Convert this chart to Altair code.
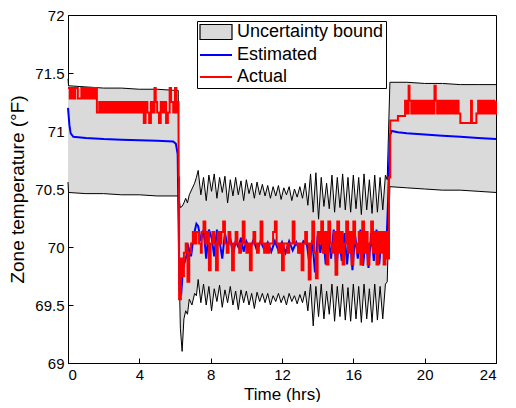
import altair as alt
import pandas as pd

# ---------------- data ----------------
band_t = [0.0, 0.03, 1.0, 2.0, 3.0, 4.0, 5.0, 6.0, 6.18,
          6.22, 6.3, 6.4, 6.5, 6.6, 6.7, 6.8, 6.95, 7.1, 7.2,
          7.3, 7.45, 7.6, 7.75, 7.9, 8.05, 8.2, 8.35, 8.5, 8.65, 8.8, 8.95, 9.1, 9.25,
          9.4, 9.55, 9.7, 9.85, 10.0, 10.15, 10.3, 10.45, 10.6, 10.75, 10.9, 11.05,
          11.2, 11.35, 11.5, 11.65, 11.8, 11.95, 12.1, 12.25, 12.4, 12.55, 12.7, 12.85,
          13.0, 13.15, 13.3, 13.45,
          13.6, 13.75, 13.9, 14.05, 14.2, 14.35, 14.5, 14.65, 14.8, 14.95, 15.1, 15.25,
          15.4, 15.55, 15.7, 15.85, 16.0, 16.15, 16.3, 16.45, 16.6, 16.75, 16.9, 17.05,
          17.2, 17.35, 17.5, 17.65, 17.8, 17.9,
          18.05, 19.0, 20.0, 21.0, 22.0, 23.0, 24.0]

band_upper = [71.45, 71.39, 71.38, 71.37, 71.37, 71.36, 71.36, 71.35, 71.35,
              70.42, 70.34, 70.35, 70.38, 70.42, 70.38, 70.45, 70.5, 70.55, 70.6,
              70.66, 70.45, 70.6, 70.4, 70.62, 70.48, 70.63, 70.42, 70.6, 70.47, 70.61, 70.38,
              70.58, 70.44, 70.6, 70.45, 70.57, 70.4, 70.58, 70.46, 70.55, 70.42, 70.56, 70.45,
              70.54, 70.44, 70.53, 70.42, 70.52, 70.44, 70.53, 70.41, 70.51, 70.45, 70.52, 70.4,
              70.5, 70.43, 70.52, 70.42, 70.55, 70.36,
              70.63, 70.3, 70.64, 70.24, 70.6, 70.35, 70.55, 70.33, 70.62, 70.3, 70.6, 70.34,
              70.63, 70.32, 70.6, 70.3, 70.62, 70.33, 70.6, 70.28, 70.63, 70.32, 70.58, 70.29,
              70.62, 70.3, 70.6, 70.32, 70.62, 70.58,
              71.42, 71.42, 71.41, 71.41, 71.40, 71.40, 71.40]

band_lower = [70.56, 70.47, 70.46, 70.46, 70.45, 70.45, 70.44, 70.44, 70.44,
              69.9, 69.3, 69.1, 69.38, 69.45, 69.42, 69.55, 69.5, 69.6, 69.58,
              69.72, 69.52, 69.68, 69.5, 69.66, 69.45, 69.64, 69.53, 69.67, 69.48, 69.63, 69.52,
              69.66, 69.5, 69.62, 69.46, 69.63, 69.52, 69.62, 69.5, 69.6, 69.47, 69.61, 69.53,
              69.6, 69.52, 69.6, 69.5, 69.58, 69.53, 69.6, 69.52, 69.58, 69.5, 69.6, 69.53,
              69.58, 69.51, 69.59, 69.52, 69.62, 69.45,
              69.68, 69.32, 69.66, 69.4, 69.68, 69.38, 69.62, 69.42, 69.68, 69.36, 69.66, 69.4,
              69.68, 69.37, 69.65, 69.36, 69.68, 69.38, 69.66, 69.35, 69.68, 69.38, 69.64, 69.35,
              69.68, 69.37, 69.66, 69.38, 69.68, 69.7,
              70.52, 70.51, 70.50, 70.49, 70.49, 70.48, 70.47]

estimated = [
    (0.0, 71.2), (0.08, 71.05), (0.15, 70.98), (0.3, 70.95), (1.0, 70.94), (2.0, 70.93),
    (3.0, 70.925), (4.0, 70.92), (5.0, 70.915), (5.9, 70.91), (6.05, 70.89), (6.15, 70.8),
    (6.2, 70.2), (6.25, 69.62), (6.35, 69.6), (6.45, 69.82), (6.6, 69.9), (6.75, 70.0),
    (6.9, 69.92), (7.05, 70.1), (7.2, 70.2), (7.3, 70.18), (7.45, 70.05), (7.6, 70.15),
    (7.75, 69.9), (7.9, 70.15), (8.05, 70.08), (8.2, 69.92), (8.35, 70.15), (8.5, 70.05),
    (8.65, 69.9), (8.8, 70.12), (8.95, 70.0), (9.1, 70.08), (9.25, 69.93), (9.4, 70.05),
    (9.55, 70.0), (9.7, 70.08), (9.85, 69.96), (10.0, 70.05), (10.2, 69.98), (10.4, 70.06),
    (10.6, 69.97), (10.8, 70.05), (11.0, 69.98), (11.2, 70.04), (11.4, 69.96), (11.6, 70.05),
    (11.8, 69.97), (12.0, 70.04), (12.2, 69.95), (12.4, 70.05), (12.6, 69.97), (12.8, 70.04),
    (13.0, 69.96), (13.2, 70.05), (13.4, 70.02), (13.55, 69.84), (13.7, 70.06), (13.85, 69.78),
    (14.0, 70.1), (14.15, 69.95), (14.3, 70.12), (14.45, 69.85), (14.6, 70.1), (14.75, 69.9),
    (14.9, 70.15), (15.05, 69.8), (15.2, 70.1), (15.35, 69.88), (15.5, 70.12), (15.65, 69.85),
    (15.8, 70.12), (15.95, 69.8), (16.1, 70.1), (16.25, 69.9), (16.4, 70.15), (16.55, 69.84),
    (16.7, 70.1), (16.85, 69.82), (17.0, 70.12), (17.15, 69.88), (17.3, 70.15), (17.45, 69.85),
    (17.6, 70.1), (17.75, 69.9), (17.85, 70.0), (17.95, 70.4), (18.05, 70.96), (18.15, 71.0),
    (18.5, 70.99), (19.0, 70.98), (20.0, 70.97), (21.0, 70.96), (22.0, 70.95), (23.0, 70.94),
    (24.0, 70.93)]

actual = [
    (0.0, 71.37), (0.1, 71.28), (0.2, 71.37), (0.3, 71.28), (0.4, 71.37), (0.55, 71.28),
    (0.75, 71.37), (0.85, 71.28), (0.95, 71.37), (1.05, 71.28), (1.15, 71.37), (1.25, 71.28),
    (1.35, 71.37), (1.45, 71.28), (1.55, 71.37),
    (1.62, 71.16), (1.75, 71.25), (1.85, 71.16), (1.95, 71.25), (2.05, 71.16), (2.15, 71.25),
    (2.25, 71.16), (2.35, 71.25), (2.45, 71.16), (2.55, 71.25), (2.65, 71.16), (2.75, 71.25),
    (2.85, 71.16), (2.95, 71.25), (3.05, 71.16), (3.15, 71.25), (3.25, 71.16), (3.35, 71.25),
    (3.45, 71.16), (3.55, 71.25), (3.65, 71.16), (3.75, 71.25), (3.85, 71.16), (3.95, 71.25),
    (4.05, 71.16), (4.15, 71.25), (4.25, 71.07), (4.35, 71.25), (4.45, 71.16), (4.55, 71.07),
    (4.65, 71.25), (4.75, 71.16), (4.85, 71.37), (4.92, 71.25), (5.0, 71.16), (5.1, 71.07),
    (5.2, 71.25), (5.3, 71.16), (5.4, 71.25), (5.5, 71.07), (5.6, 71.16), (5.7, 71.37),
    (5.78, 71.25), (5.9, 71.16), (6.0, 71.37), (6.08, 71.16), (6.14, 71.25),
    (6.2, 70.6), (6.23, 69.55), (6.33, 69.9), (6.4, 69.75), (6.5, 69.95), (6.6, 70.03),
    (6.7, 69.7), (6.8, 69.95), (6.9, 70.03), (7.0, 70.13), (7.1, 70.03), (7.2, 70.13),
    (7.35, 70.03), (7.45, 69.95), (7.5, 70.13), (7.6, 70.22), (7.7, 70.03), (7.8, 70.13),
    (7.9, 69.8), (8.0, 70.03), (8.1, 70.13), (8.2, 70.03), (8.3, 69.8), (8.4, 70.13),
    (8.5, 70.03), (8.6, 70.13), (8.7, 70.22), (8.8, 70.03), (8.9, 69.95), (9.0, 70.13),
    (9.1, 70.03), (9.2, 69.8), (9.3, 70.03), (9.4, 70.13), (9.5, 70.03), (9.6, 69.95),
    (9.7, 70.03), (9.8, 70.22), (9.9, 70.03), (10.0, 69.95), (10.1, 70.03), (10.2, 69.8),
    (10.3, 70.03), (10.4, 70.13), (10.5, 70.03), (10.6, 69.95), (10.7, 70.03), (10.8, 70.22),
    (10.9, 70.03), (11.0, 69.95), (11.1, 70.03), (11.2, 69.95), (11.3, 70.03), (11.5, 70.13),
    (11.6, 70.22), (11.7, 70.03), (11.8, 69.95), (11.9, 70.03), (12.0, 69.8), (12.1, 70.03),
    (12.3, 69.95), (12.4, 70.03), (12.6, 70.22), (12.7, 70.03), (12.9, 69.95), (13.0, 70.03),
    (13.1, 69.8), (13.2, 70.03), (13.3, 70.13), (13.4, 70.03), (13.5, 69.72), (13.6, 70.03),
    (13.7, 70.22), (13.8, 69.95), (13.9, 69.73), (14.0, 70.13), (14.1, 70.03), (14.2, 70.22),
    (14.3, 69.95), (14.4, 70.13), (14.5, 69.85), (14.6, 70.22), (14.7, 70.03), (14.8, 69.95),
    (14.9, 70.13), (15.0, 69.76), (15.1, 70.22), (15.2, 69.95), (15.3, 70.13), (15.4, 69.85),
    (15.5, 70.03), (15.6, 70.22), (15.7, 69.95), (15.8, 70.13), (15.9, 69.85), (16.0, 70.22),
    (16.1, 70.03), (16.2, 69.95), (16.3, 70.13), (16.4, 69.85), (16.5, 70.22), (16.6, 69.95),
    (16.7, 70.13), (16.8, 69.85), (16.9, 70.03), (17.0, 70.22), (17.1, 69.95), (17.2, 70.13),
    (17.3, 69.85), (17.4, 70.13), (17.5, 69.95), (17.6, 70.13), (17.7, 69.85), (17.8, 70.13),
    (17.9, 69.9), (18.0, 70.6), (18.07, 71.09),
    (18.5, 71.13), (18.9, 71.26), (19.0, 71.15), (19.1, 71.39), (19.15, 71.26), (19.25, 71.15),
    (19.35, 71.26), (19.45, 71.15), (19.55, 71.26), (19.65, 71.15), (19.75, 71.26), (19.85, 71.15),
    (19.95, 71.26), (20.05, 71.15), (20.15, 71.26), (20.25, 71.15), (20.35, 71.26), (20.45, 71.15),
    (20.55, 71.39), (20.62, 71.26), (20.7, 71.15), (20.8, 71.26), (20.9, 71.15), (21.0, 71.26),
    (21.1, 71.15), (21.2, 71.26), (21.3, 71.15), (21.4, 71.26), (21.5, 71.15), (21.6, 71.26),
    (21.7, 71.15), (21.8, 71.26), (21.9, 71.15), (22.0, 71.07), (22.6, 71.26), (22.65, 71.07),
    (22.9, 71.15), (23.0, 71.26), (23.1, 71.15), (23.2, 71.26), (23.3, 71.15), (23.4, 71.26),
    (23.5, 71.15), (23.6, 71.26), (23.7, 71.15), (23.8, 71.26), (23.9, 71.15), (24.0, 71.26)]

x_ticks = [0, 4, 8, 12, 16, 20, 24]
y_ticks = [69, 69.5, 70, 70.5, 71, 71.5, 72]
series_names = ["Uncertainty bound", "Estimated", "Actual"]
series_strokes = ["#000000", "#0000ff", "#ff0000"]
band_fill = "#dadada"

# ---------------- tables ----------------
band_df = pd.DataFrame({"t": band_t, "upper": band_upper, "lower": band_lower})
band_df["series"] = series_names[0]
est_df = pd.DataFrame(estimated, columns=["t", "v"])
est_df["series"] = series_names[1]
act_df = pd.DataFrame(actual, columns=["t", "v"])
act_df["series"] = series_names[2]

FONT = "Liberation Sans"
xs = alt.Scale(domain=[0, 24], nice=False, zero=False)
ys = alt.Scale(domain=[69, 72], nice=False, zero=False)
cs = alt.Scale(domain=series_names, range=series_strokes)

x_axis = alt.Axis(values=x_ticks, title="Time (hrs)", grid=False,
                  tickSize={"expr": "-5"}, labelPadding=9, format="~g", titlePadding=4)
y_axis = alt.Axis(values=y_ticks, title="Zone temperature (\u00b0F)", grid=False,
                  tickSize={"expr": "-5"}, labelPadding=9, format="~g", titlePadding=7,
                  titleFontSize=19)

is_band = "datum.value === 'Uncertainty bound'"
legend = alt.Legend(
    title=None, orient="none", legendX=129, legendY=6,
    strokeColor="black", fillColor="white", padding=2, cornerRadius=0,
    labelFont=FONT, labelFontSize=18, labelColor="black",
    symbolSize=1024, rowPadding=4, symbolOffset=8, labelOffset=12,
    symbolType={"expr": f"{is_band} ? 'M-1,-0.47H1V0.47H-1Z' : 'stroke'"},
    symbolFillColor={"expr": f"{is_band} ? '{band_fill}' : 'transparent'"},
    symbolStrokeWidth={"expr": f"{is_band} ? 1.2 : 2"},
    symbolOpacity=1,
)

band = alt.Chart(band_df).mark_area(opacity=1, color=band_fill).encode(
    x=alt.X("t:Q", scale=xs, axis=x_axis),
    y=alt.Y("lower:Q", scale=ys, axis=y_axis),
    y2="upper:Q",
)
upper_line = alt.Chart(band_df).mark_line(strokeWidth=1).encode(
    x="t:Q", y="upper:Q", color=alt.Color("series:N", scale=cs, legend=legend))
lower_line = alt.Chart(band_df).mark_line(strokeWidth=1).encode(
    x="t:Q", y="lower:Q", color=alt.Color("series:N", scale=cs, legend=legend))
est_line = alt.Chart(est_df).mark_line(strokeWidth=2).encode(
    x="t:Q", y="v:Q", color=alt.Color("series:N", scale=cs, legend=legend))
act_line = alt.Chart(act_df).mark_line(strokeWidth=2, interpolate="step-after").encode(
    x="t:Q", y="v:Q", color=alt.Color("series:N", scale=cs, legend=legend))

chart = alt.layer(band, upper_line, lower_line, est_line, act_line).properties(
    width=428, height=348, background="white", padding=0
).configure_view(
    stroke="black", strokeWidth=1
).configure_axis(
    labelFont=FONT, titleFont=FONT, labelFontSize=15, titleFontSize=17,
    titleFontWeight="normal", labelColor="black", titleColor="black",
    domainColor="black", tickColor="black", domainWidth=1, tickWidth=1,
)

chart.save("out.html", embed_options={"renderer": "svg", "actions": False})
